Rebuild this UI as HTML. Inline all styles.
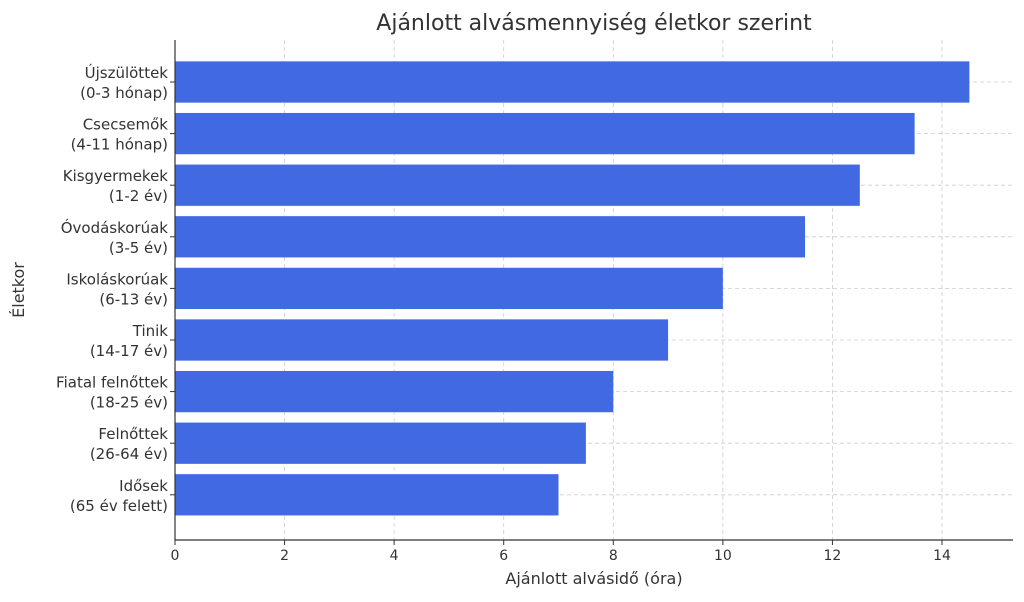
<!DOCTYPE html>
<html><head><meta charset="utf-8"><style>
body{margin:0;background:#fff;font-family:"DejaVu Sans","Liberation Sans",sans-serif;}
svg text{font-family:"DejaVu Sans","Liberation Sans",sans-serif;fill:#333;}
</style></head><body>
<svg id="c" width="1024" height="598"></svg>
<script>
const categories=[["Újszülöttek","(0-3 hónap)"],["Csecsemők","(4-11 hónap)"],["Kisgyermekek","(1-2 év)"],["Óvodáskorúak","(3-5 év)"],["Iskoláskorúak","(6-13 év)"],["Tinik","(14-17 év)"],["Fiatal felnőttek","(18-25 év)"],["Felnőttek","(26-64 év)"],["Idősek","(65 év felett)"]];
const values=[14.5,13.5,12.5,11.5,10,9,8,7.5,7];
const xTicks=[0,2,4,6,8,10,12,14];
const svg=document.getElementById('c');const NS='http://www.w3.org/2000/svg';
function mk(t,a,p){const e=document.createElementNS(NS,t);for(const k in a)e.setAttribute(k,a[k]);(p||svg).appendChild(e);return e;}
const L=175,R=1013,T=40,B=540,unit=(942-175)/14;
const x=v=>L+v*unit;const step=51.6;const y=i=>82+i*step;
let t=mk('text',{x:594,y:30,'font-size':22,'text-anchor':'middle'});t.textContent='Ajánlott alvásmennyiség életkor szerint';

xTicks.forEach(v=>{const g=mk('line',{x1:x(v),x2:x(v),y1:T,y2:B,stroke:'#ccc','stroke-dasharray':'4,3','stroke-width':0.8});

mk('line',{x1:x(v),x2:x(v),y1:B,y2:B+5,stroke:'#333'});
const l=mk('text',{x:x(v),y:B+20,'font-size':14,'text-anchor':'middle'});l.textContent=v;
});
categories.forEach((c,i)=>{const g=mk('line',{x1:L,x2:R,y1:y(i),y2:y(i),stroke:'#ccc','stroke-dasharray':'4,3','stroke-width':0.8});
});
categories.forEach((c,i)=>{const h=step*0.8;const b=mk('rect',{x:L,y:y(i)-h/2,width:x(values[i])-L,height:h,fill:'#4169e1'});

mk('line',{x1:L-5,x2:L,y1:y(i),y2:y(i),stroke:'#333'});
const l=mk('text',{x:L-7,'font-size':15,'text-anchor':'end'});

const a=mk('tspan',{x:L-7,y:y(i)-4},l);a.textContent=c[0];const b2=mk('tspan',{x:L-7,y:y(i)+16},l);b2.textContent=c[1];});
mk('line',{x1:L,x2:L,y1:T,y2:B,stroke:'#333','stroke-width':1.2});
mk('line',{x1:L,x2:R,y1:B,y2:B,stroke:'#333','stroke-width':1.2});
t=mk('text',{x:594,y:584,'font-size':16,'text-anchor':'middle'});t.textContent='Ajánlott alvásidő (óra)';

t=mk('text',{x:0,y:0,'font-size':16,'text-anchor':'middle',transform:'translate(24,290) rotate(-90)'});t.textContent='Életkor';

</script></body></html>
